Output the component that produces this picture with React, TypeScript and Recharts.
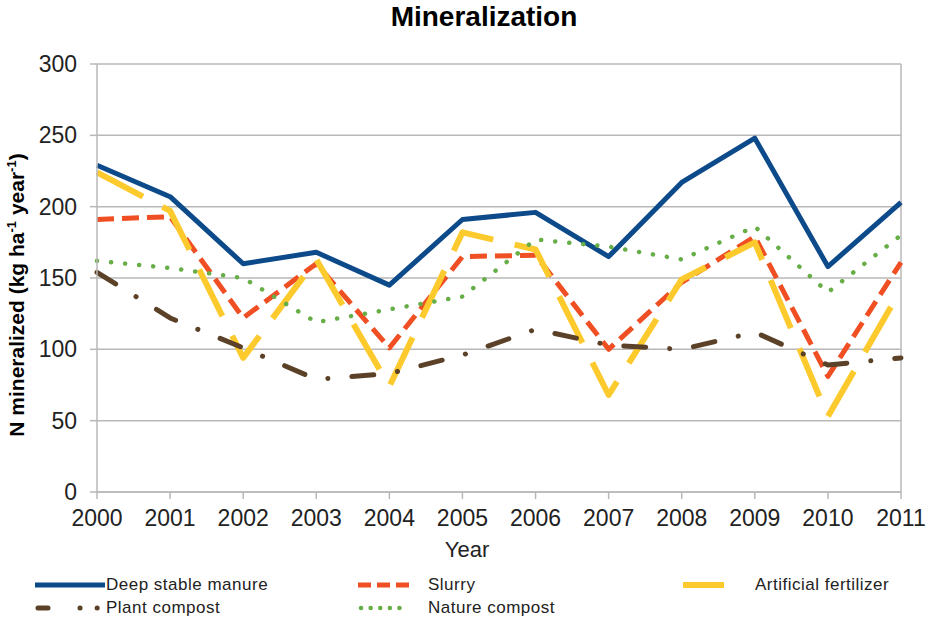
import { LineChart, Line, XAxis, YAxis, CartesianGrid, ReferenceLine } from "recharts";

const YEARS = [2000, 2001, 2002, 2003, 2004, 2005, 2006, 2007, 2008, 2009, 2010, 2011];
const DEEP_STABLE = [229, 207, 160, 168, 145, 191, 196, 165, 217, 248, 158, 203];
const SLURRY = [191, 193, 122, 160, 101, 165, 166, 100, 147, 179, 81, 161];
const ARTIFICIAL = [224, 197, 94, 163, 74, 182, 170, 68, 149, 175, 53, 142];
const PLANT_COMPOST = [154, 122, 101, 79, 83, 96, 114, 103, 100, 112, 89, 94];
const NATURE_COMPOST = [162, 157, 150, 119, 128, 137, 177, 172, 163, 186, 140, 180];
const Y_TICKS = [0, 50, 100, 150, 200, 250, 300];

const FONT = "'Liberation Sans', Arial, sans-serif";
const GRID = "#b8b8b8";

const data = YEARS.map((year, i) => ({
  year,
  deep: DEEP_STABLE[i],
  slurry: SLURRY[i],
  artificial: ARTIFICIAL[i],
  plant: PLANT_COMPOST[i],
  nature: NATURE_COMPOST[i],
}));

const SERIES = [
  { key: "deep", name: "Deep stable manure", color: "#0c4a8a", width: 5, dash: undefined, cap: "butt", legendDash: undefined, lx: 0 },
  { key: "slurry", name: "Slurry", color: "#f04e23", width: 5, dash: "17 8", cap: "butt", legendDash: "13 6", lx: 0 },
  { key: "artificial", name: "Artificial fertilizer", color: "#fcca2c", width: 6, dash: "52 22", cap: "butt", legendDash: undefined, lx: 0 },
  { key: "plant", name: "Plant compost", color: "#5b4127", width: 5, dash: "22 24 0.1 24", cap: "round", legendDash: "10 32 0.1 17 0.1 100", lx: 3 },
  { key: "nature", name: "Nature compost", color: "#68ae48", width: 4.5, dash: "0.1 14", cap: "round", legendDash: "0.1 9.5", lx: 3 },
];

function LegendItem({ s, y, lineFrom, lineTo, textX }: any) {
  const w = lineTo - lineFrom;
  return (
    <>
      <svg style={{ position: "absolute", left: lineFrom, top: y - 6 }} width={w} height={12}>
        <line
          x1={s.lx}
          x2={w - s.lx}
          y1={6}
          y2={6}
          stroke={s.color}
          strokeWidth={s.width}
          strokeDasharray={s.legendDash}
          strokeLinecap={s.cap}
        />
      </svg>
      <div
        style={{
          position: "absolute",
          left: textX,
          top: y - 11,
          fontFamily: FONT,
          fontSize: 17,
          letterSpacing: 0.5,
          color: "#222",
          whiteSpace: "nowrap",
          lineHeight: "22px",
        }}
      >
        {s.name}
      </div>
    </>
  );
}

export default function App() {
  return (
    <div style={{ position: "absolute", left: 0, top: 0, width: 927, height: 618, background: "#fff" }}>
      <div
        style={{
          position: "absolute",
          left: 334,
          top: 1,
          width: 300,
          textAlign: "center",
          fontFamily: FONT,
          fontWeight: "bold",
          fontSize: 28,
          lineHeight: "32px",
          color: "#000",
        }}
      >
        Mineralization
      </div>
      <LineChart width={927} height={618} data={data} margin={{ top: 64, right: 26, left: 0, bottom: 96 }}>
        <CartesianGrid vertical={false} stroke={GRID} strokeWidth={1.5} />
        <XAxis
          dataKey="year"
          height={30}
          stroke={GRID}
          strokeWidth={1.5}
          tickSize={7}
          tickMargin={11}
          tick={{ fontSize: 23, fill: "#222", fontFamily: FONT }}
          interval={0}
        />
        <YAxis
          domain={[0, 300]}
          ticks={Y_TICKS}
          width={97}
          stroke={GRID}
          strokeWidth={1.5}
          tickSize={7}
          tickMargin={13}
          tick={{ fontSize: 23, fill: "#222", fontFamily: FONT }}
          label={{
            content: () => (
              <text
                x={24}
                y={295}
                transform="rotate(-90 24 295)"
                textAnchor="middle"
                fontFamily={FONT}
                fontWeight="bold"
                fontSize={21}
                fill="#000"
              >
                N mineralized (kg ha
                <tspan fontSize={13} dy={-8}>-1</tspan>
                <tspan dy={8}> year</tspan>
                <tspan fontSize={13} dy={-8}>-1</tspan>
                <tspan dy={8}>)</tspan>
              </text>
            ),
          }}
        />
        <ReferenceLine x={2011} stroke={GRID} strokeWidth={1.5} />
        {SERIES.map((s) => (
          <Line
            key={s.key}
            dataKey={s.key}
            name={s.name}
            stroke={s.color}
            strokeWidth={s.width}
            strokeDasharray={s.dash}
            strokeLinecap={s.cap as any}
            strokeLinejoin="round"
            dot={false}
            activeDot={false}
            isAnimationActive={false}
          />
        ))}
      </LineChart>
      <div
        style={{
          position: "absolute",
          left: 417,
          top: 537,
          width: 100,
          textAlign: "center",
          fontFamily: FONT,
          fontSize: 22,
          lineHeight: "26px",
          color: "#222",
        }}
      >
        Year
      </div>
      <LegendItem s={SERIES[0]} y={585} lineFrom={35} lineTo={105} textX={106} />
      <LegendItem s={SERIES[1]} y={585} lineFrom={358} lineTo={412} textX={428} />
      <LegendItem s={SERIES[2]} y={585} lineFrom={683} lineTo={724} textX={755} />
      <LegendItem s={SERIES[3]} y={608} lineFrom={35} lineTo={105} textX={106} />
      <LegendItem s={SERIES[4]} y={608} lineFrom={358} lineTo={412} textX={428} />
    </div>
  );
}
